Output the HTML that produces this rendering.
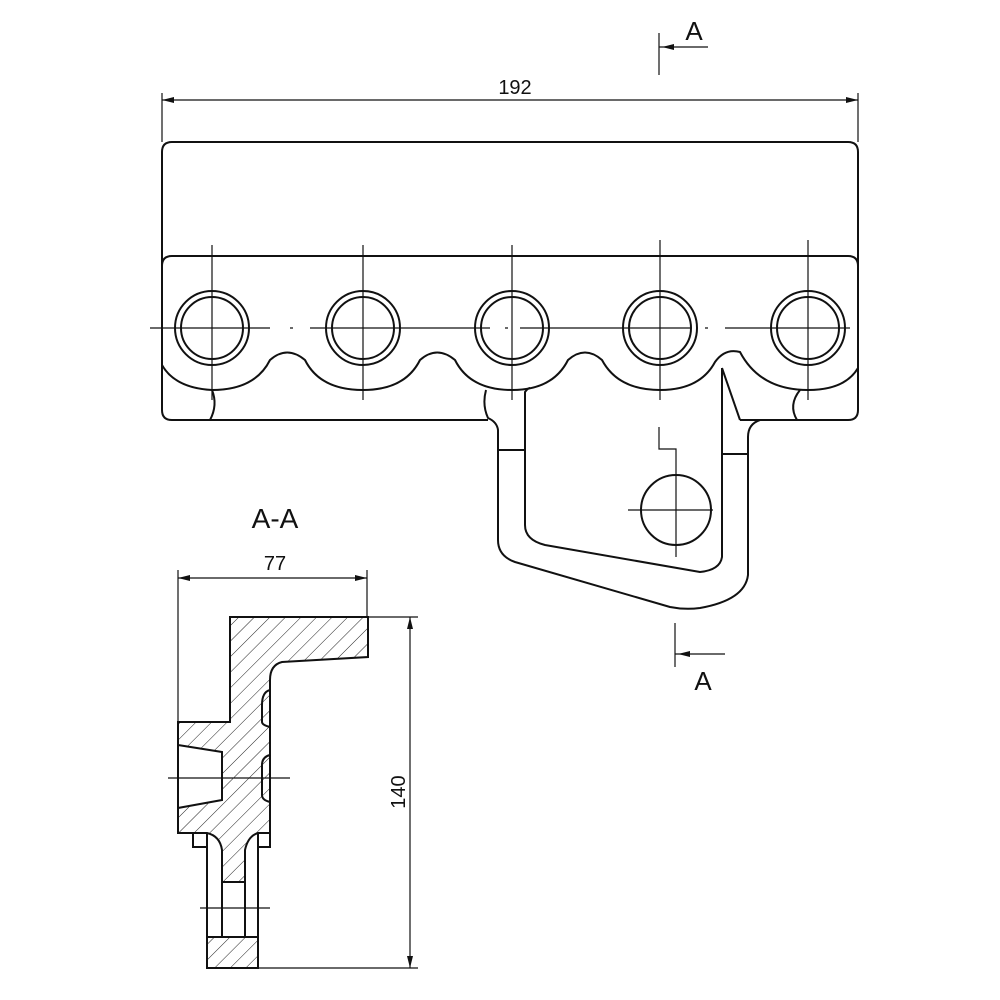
<!DOCTYPE html>
<html><head><meta charset="utf-8"><style>body{margin:0;background:#fff}svg{display:block}</style></head><body>
<svg width="1000" height="1000" viewBox="0 0 1000 1000" xmlns="http://www.w3.org/2000/svg" font-family="Liberation Sans, sans-serif">
<defs>
<pattern id="h" patternUnits="userSpaceOnUse" width="11" height="11" patternTransform="rotate(45)">
<line x1="0" y1="0" x2="0" y2="11" stroke="#222" stroke-width="1"/>
</pattern>
</defs>
<g fill="none" stroke="#111" stroke-width="2" stroke-linejoin="round">
<path d="M172,142 H848 Q858,142 858,152 V410 Q858,420 848,420 H740 M760,420 Q748,424 748,437 V575 Q745,600 700,608 Q685,610 670,607 L515,562 Q498,556 498,540 V430 Q497,422 488,418 Q482,405 486,390 M488,420 H172 Q162,420 162,410 V152 Q162,142 172,142"/>
<path d="M740,420 H760"/>
<path d="M162,266 Q162,256 172,256 H848 Q858,256 858,266"/>
<path d="M162,365 Q175,388 212,390 Q255,390 270,360 Q287,345 305,360 Q320,390 363,390 Q405,390 420,360 Q437,345 455,360 Q470,390 512,390 Q553,390 568,360 Q585,345 602,360 Q618,390 660,390 Q700,390 715,362 Q725,348 740,352 Q760,390 808,390 Q845,390 858,368"/>
<path d="M212,390 Q218,405 210,420"/>
<path d="M800,390 Q788,405 797,420"/>
<path d="M722,368 V557 Q720,570 700,572 L545,545 Q525,540 525,525 V392 Q528,388 530,388"/>
<path d="M722,368 L740,420"/>
<path d="M498,450 H525 M722,454 H748"/>
<g>
<circle cx="212" cy="328" r="37"/><circle cx="212" cy="328" r="31"/>
<circle cx="363" cy="328" r="37"/><circle cx="363" cy="328" r="31"/>
<circle cx="512" cy="328" r="37"/><circle cx="512" cy="328" r="31"/>
<circle cx="660" cy="328" r="37"/><circle cx="660" cy="328" r="31"/>
<circle cx="808" cy="328" r="37"/><circle cx="808" cy="328" r="31"/>
</g>
<circle cx="676" cy="510" r="35"/>
</g>
<g stroke="#111" stroke-width="1.2" fill="none">
<path d="M150,328 H270 M290,328 H293 M310,328 H490 M505,328 H508 M520,328 H690 M705,328 H708 M725,328 H850"/>
<path d="M212,245 V400 M363,245 V400 M512,245 V400 M660,240 V400 M808,240 V400"/>
<path d="M659,427 V449 H676 V557 M628,510 H713"/>
<path d="M162,93 V142 M858,93 V142 M162,100 H858"/>
<path d="M659,33 V75 M659,47 H708 M675,623 V667 M675,654 H725"/>
<path d="M178,570 V722 M367,570 V617 M178,578 H367"/>
<path d="M368,617 H418 M258,968 H418 M410,617 V968"/>
<path d="M168,778 H290 M200,908 H270"/>
</g>
<g fill="#111">
<path d="M162,100 l12,-3 v6 z M858,100 l-12,-3 v6 z"/>
<path d="M178,578 l12,-3 v6 z M367,578 l-12,-3 v6 z"/>
<path d="M410,617 l-3,12 h6 z M410,968 l-3,-12 h6 z"/>
<path d="M662,47 l12,-3 v6 z M678,654 l12,-3 v6 z"/>
</g>
<path d="M230,617 H368 V657 L282,662 Q270,665 270,680 V833 H258 Q248,836 245,850 V882 H222 V850 Q220,836 207,833 H178 V808 L222,800 V752 L178,745 V722 H230 Z M207,937 H258 V968 H207 Z" fill="url(#h)" stroke="#111" stroke-width="2"/>
<g fill="none" stroke="#111" stroke-width="2">
<path d="M178,745 V808"/>
<path d="M193,833 V847 H207 M270,833 V847 H258"/>
<path d="M207,833 V968 M258,833 V968 M222,882 V937 M245,882 V937"/>
<path d="M270,690 Q262,692 262,705 V722 Q262,725 270,727 M270,755 Q262,757 262,765 V795 Q262,800 270,802"/>
</g>
<g fill="#111" font-size="20">
<text x="515" y="94" text-anchor="middle">192</text>
<text x="694" y="40" text-anchor="middle" font-size="26">A</text>
<text x="703" y="690" text-anchor="middle" font-size="26">A</text>
<text x="275" y="528" text-anchor="middle" font-size="28">A-A</text>
<text x="275" y="570" text-anchor="middle">77</text>
<text transform="translate(405,792) rotate(-90)" text-anchor="middle">140</text>
</g>
</svg>
</body></html>
